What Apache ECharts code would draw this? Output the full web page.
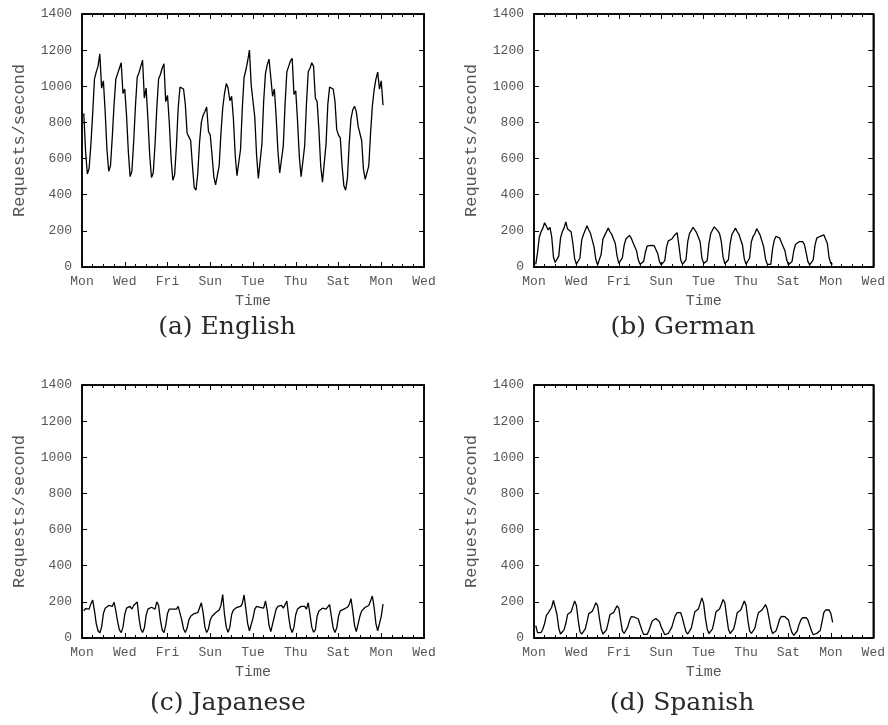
<!DOCTYPE html>
<html>
<head>
<meta charset="utf-8">
<script src="https://cdn.jsdelivr.net/npm/echarts@6/dist/echarts.min.js"></script>
<style>
  html, body { margin: 0; padding: 0; background: #fff; }
  #chart { width: 888px; height: 725px; }
</style>
</head>
<body>
<div id="chart"></div>
<script>
// Request rates sampled every 2 hours, starting 02:00 on the first Monday.
const dayLabels = ['Mon', 'Wed', 'Fri', 'Sun', 'Tue', 'Thu', 'Sat', 'Mon', 'Wed'];
const yTicks = [0, 200, 400, 600, 800, 1000, 1200, 1400];

const english = [
  850, 640, 515, 545, 680, 850, 1040, 1080, 1110, 1180, 990, 1030,
  860, 650, 530, 560, 720, 900, 1040, 1070, 1100, 1130, 960, 985,
  840, 640, 500, 530, 690, 890, 1050, 1075, 1110, 1145, 935, 990,
  820, 620, 495, 520, 680, 880, 1040, 1065, 1100, 1125, 915, 950,
  800, 600, 480, 510, 670, 880, 995, 990, 985, 900, 740, 720,
  700, 560, 440, 425, 520, 690, 800, 840, 860, 885, 750, 730,
  620, 500, 455, 450, 560, 740, 880, 960, 1015, 990, 920, 945,
  820, 620, 505, 500, 650, 880, 1050, 1090, 1140, 1200, 1005, 995,
  830, 620, 490, 490, 680, 920, 1070, 1120, 1150, 1140, 945, 985,
  830, 640, 520, 510, 670, 900, 1080, 1110, 1140, 1155, 955, 975,
  810, 610, 500, 495, 670, 900, 1080, 1100, 1130, 1110, 935, 915,
  760, 560, 470, 480, 680, 900, 995, 990, 985, 920, 760, 730,
  715, 560, 450, 425, 490, 680, 820, 870, 890, 860, 780, 780,
  700, 540, 485, 478, 560, 740, 890, 980, 1040, 1078, 985, 1030,
  895
];

const german = [
  15, 80, 165, 195, 215, 245, 225, 205, 220, 170, 55, 25,
  18, 60, 160, 195, 215, 250, 210, 200, 195, 130, 45, 15,
  15, 50, 150, 180, 190, 228, 205, 185, 180, 110, 40, 12,
  20, 70, 155, 175, 180, 215, 195, 180, 175, 130, 60, 20,
  12, 50, 120, 155, 165, 175, 160, 135, 125, 90, 40, 15,
  10, 30, 80, 115, 120, 120, 118, 118, 110, 75, 30, 12,
  10, 35, 110, 145, 150, 155, 170, 180, 190, 120, 40, 15,
  12, 40, 140, 185, 195, 220, 210, 190, 200, 140, 50, 20,
  12, 35, 130, 185, 205, 222, 215, 200, 185, 140, 55, 18,
  12, 40, 130, 180, 190, 215, 195, 180, 175, 120, 45, 15,
  12, 50, 140, 170, 185, 212, 195, 175, 165, 110, 45, 15,
  15, 15, 100, 150, 170, 175, 160, 135, 125, 90, 40, 12,
  10, 30, 90, 125, 135, 140, 145, 140, 125, 80, 30, 12,
  10, 40, 120, 160, 165, 170, 165, 178, 180, 130, 50, 20,
  15
];

const japanese = [
  150, 162, 165, 160, 190, 210, 150, 80, 40, 28, 60, 135,
  165, 175, 180, 170, 175, 198, 150, 90, 45, 30, 60, 130,
  165, 170, 175, 160, 180, 175, 200, 110, 50, 30, 55, 125,
  160, 165, 170, 165, 160, 200, 180, 100, 45, 30, 70, 135,
  160, 165, 160, 170, 160, 175, 180, 100, 50, 30, 55, 100,
  120, 130, 135, 140, 140, 150, 195, 140, 60, 30, 50, 100,
  120, 130, 140, 150, 155, 180, 240, 130, 60, 32, 60, 130,
  155, 165, 170, 170, 175, 190, 238, 160, 80, 40, 35, 110,
  160, 175, 180, 170, 180, 165, 205, 150, 70, 35, 40, 120,
  160, 175, 165, 180, 165, 175, 205, 120, 55, 30, 60, 130,
  160, 170, 175, 165, 175, 160, 195, 130, 60, 32, 45, 120,
  150, 160, 165, 155, 160, 155, 185, 120, 55, 30, 55, 120,
  150, 155, 160, 165, 170, 185, 218, 150, 70, 35, 45, 120,
  150, 160, 170, 175, 180, 185, 232, 170, 80, 40, 50, 120,
  188
];

const spanish = [
  68, 30, 22, 30, 50, 80, 125, 138, 142, 170, 208, 200,
  130, 55, 22, 28, 45, 80, 130, 140, 145, 175, 205, 180,
  100, 35, 22, 28, 50, 90, 135, 140, 148, 170, 195, 180,
  110, 50, 22, 28, 45, 85, 130, 138, 140, 160, 178, 165,
  100, 40, 25, 35, 60, 95, 118, 120, 115, 115, 105, 75,
  45, 20, 15, 20, 40, 70, 95, 105, 108, 105, 90, 60,
  40, 18, 12, 25, 35, 60, 95, 125, 140, 148, 140, 110,
  70, 35, 22, 30, 55, 100, 145, 150, 160, 190, 222, 190,
  110, 50, 25, 30, 50, 95, 145, 155, 160, 185, 213, 195,
  120, 50, 25, 28, 50, 90, 140, 150, 155, 180, 205, 180,
  100, 40, 25, 30, 55, 100, 140, 150, 155, 170, 185, 160,
  110, 55, 25, 25, 40, 70, 105, 120, 115, 118, 120, 100,
  60, 30, 15, 20, 40, 75, 100, 112, 115, 112, 100, 70,
  40, 18, 15, 25, 35, 42, 90, 140, 155, 160, 155, 135,
  87
];

const panels = [
  { caption: '(a) English',  values: english,  left: 82,  top: 14,  capX: 227, capY: 315 },
  { caption: '(b) German',   values: german,   left: 534, top: 14,  capX: 683, capY: 315 },
  { caption: '(c) Japanese', values: japanese, left: 82,  top: 385, capX: 228, capY: 691 },
  { caption: '(d) Spanish',  values: spanish,  left: 534, top: 385, capX: 682, capY: 691 }
];

const PLOT_W = 342, PLOT_H = 253;
const monoFont = '"Liberation Mono", "DejaVu Sans Mono", monospace';
const labelGray = '#555';

// Sample time in days since Monday 00:00 (one sample every 2 hours).
function sampleDay(i) { return (i + 1) * 2 / 24; }

const grid = [], xAxis = [], yAxis = [], series = [], graphic = [];

panels.forEach((p, idx) => {
  grid.push({
    left: p.left, top: p.top, width: PLOT_W, height: PLOT_H,
    show: true, borderColor: '#000', borderWidth: 1.5, backgroundColor: '#fff'
  });
  const baseX = {
    type: 'value', gridIndex: idx, min: 0, max: 16, interval: 2,
    splitLine: { show: false },
    axisLine: { show: true, onZero: false, lineStyle: { color: '#000', width: 1.5 } },
    axisTick: { show: true, inside: true, length: 5, lineStyle: { color: '#000', width: 1 } },
    minorTick: { show: true, splitNumber: 4, length: 3, lineStyle: { color: '#000', width: 1 } }
  };
  xAxis.push(Object.assign({}, baseX, {
    position: 'bottom',
    name: 'Time', nameLocation: 'middle', nameGap: 27,
    nameTextStyle: { fontFamily: monoFont, fontSize: 15, color: labelGray },
    axisLabel: {
      show: true, margin: 8, fontFamily: monoFont, fontSize: 13, color: labelGray,
      formatter: v => dayLabels[Math.round(v / 2)]
    }
  }));
  xAxis.push(Object.assign({}, baseX, { position: 'top', axisLabel: { show: false } }));

  const baseY = {
    type: 'value', gridIndex: idx, min: 0, max: 1400, interval: 200,
    splitLine: { show: false },
    axisLine: { show: true, onZero: false, lineStyle: { color: '#000', width: 1.5 } },
    axisTick: { show: true, inside: true, length: 5, lineStyle: { color: '#000', width: 1 } }
  };
  yAxis.push(Object.assign({}, baseY, {
    position: 'left',
    name: 'Requests/second', nameLocation: 'middle', nameGap: 54,
    nameTextStyle: { fontFamily: monoFont, fontSize: 17, color: labelGray },
    axisLabel: {
      show: true, margin: 10, fontFamily: monoFont, fontSize: 13, color: labelGray,
      formatter: v => (yTicks.indexOf(v) >= 0 ? String(v) : '')
    }
  }));
  yAxis.push(Object.assign({}, baseY, { position: 'right', axisLabel: { show: false } }));

  series.push({
    type: 'line',
    xAxisIndex: idx * 2, yAxisIndex: idx * 2,
    data: p.values.map((v, i) => [sampleDay(i), v]),
    showSymbol: false, smooth: false,
    lineStyle: { color: '#000', width: 1.3 },
    silent: true
  });

  graphic.push({
    type: 'text',
    x: p.capX,
    y: p.capY,
    style: {
      text: p.caption,
      font: '25px "DejaVu Serif", "Liberation Serif", serif',
      fill: '#2a2a2a',
      align: 'center',
      verticalAlign: 'top'
    }
  });
});

const chart = echarts.init(document.getElementById('chart'), null, { renderer: 'canvas' });
chart.setOption({
  animation: false,
  backgroundColor: '#fff',
  grid, xAxis, yAxis, series, graphic
});
</script>
</body>
</html>
